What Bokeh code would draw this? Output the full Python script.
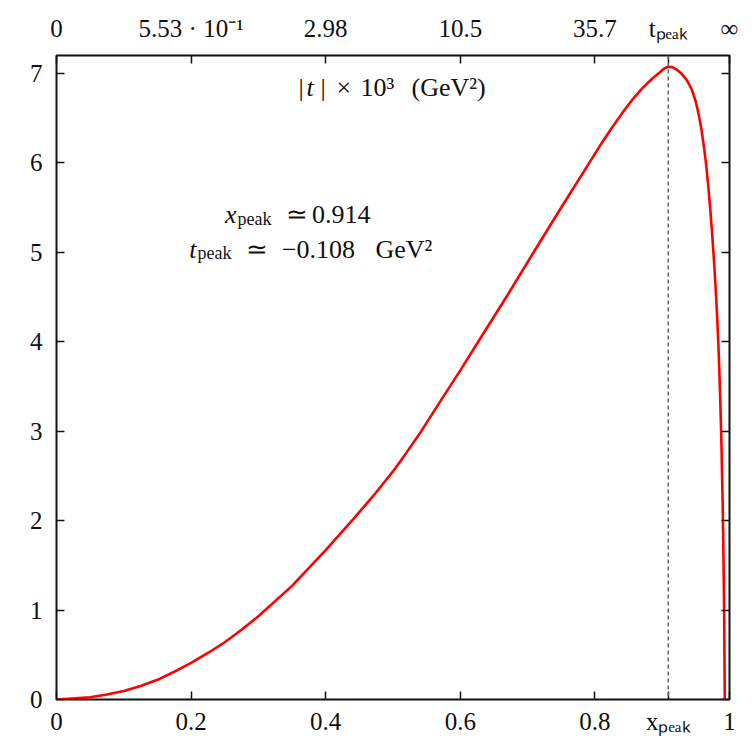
from bokeh.plotting import figure
from bokeh.models import LinearAxis, FixedTicker, Span, Label, Range1d
from bokeh.embed import file_html
from bokeh.resources import INLINE

# ---- data ----
x_vals = [0, 0.05, 0.075, 0.1, 0.125, 0.15, 0.175, 0.2, 0.225, 0.25, 0.275,
          0.3, 0.35, 0.4, 0.439, 0.47, 0.5, 0.52, 0.542, 0.57, 0.6, 0.625,
          0.67, 0.709, 0.75, 0.79, 0.81, 0.826, 0.84, 0.855, 0.87, 0.885,
          0.897, 0.903, 0.909, 0.915, 0.921, 0.929, 0.937, 0.944, 0.95, 0.954,
          0.958, 0.962, 0.965, 0.968, 0.971, 0.974, 0.977, 0.980, 0.982,
          0.984, 0.986, 0.988, 0.990, 0.991, 0.992, 0.993]
y_vals = [0, 0.025, 0.055, 0.095, 0.15, 0.22, 0.31, 0.41, 0.52, 0.64, 0.78,
          0.93, 1.27, 1.67, 2.0, 2.27, 2.55, 2.76, 3.0, 3.33, 3.68, 3.98,
          4.52, 5.0, 5.5, 5.98, 6.22, 6.40, 6.55, 6.70, 6.83, 6.94,
          7.015, 7.055, 7.075, 7.07, 7.045, 6.995, 6.92, 6.82, 6.68, 6.55,
          6.39, 6.18, 6.0, 5.78, 5.52, 5.23, 4.9, 4.52, 4.22,
          3.87, 3.42, 2.87, 2.12, 1.62, 1.0, 0.0]

x_peak = 0.909  # position of the peak / dashed line as drawn
x_ticks = [0, 0.2, 0.4, 0.6, 0.8, x_peak, 1]
x_tick_labels = ["0", "0.2", "0.4", "0.6", "0.8", "xₚₑₐₖ", "1"]
t_tick_labels = ["0", "5.53 · 10⁻¹", "2.98", "10.5", "35.7", "tₚₑₐₖ", "∞"]
y_ticks = [0, 1, 2, 3, 4, 5, 6, 7]
y_tick_labels = ["0", "1", "2", "3", "4", "5", "6", "7"]

FONT = "Liberation Serif"
FS = "25px"
AFS = "26px"
SUB = "18px"

W, H = 753, 737
L, R, T, B = 56, 24, 55, 37
XMAX, YMAX = 1.0, 7.2
DY = 8  # label baseline correction (px)


def X(px):
    return (px - L) / (W - L - R) * XMAX


def Y(py):
    return (H - B - (py - DY)) / (H - B - T) * YMAX


p = figure(width=W, height=H, x_range=Range1d(0, XMAX), y_range=Range1d(0, YMAX),
           output_backend="svg", toolbar_location=None,
           min_border_left=L, min_border_right=R, min_border_top=T, min_border_bottom=B)
p.grid.visible = False
p.outline_line_color = "#111111"
p.outline_line_width = 2
p.background_fill_color = "white"
p.border_fill_color = "white"

bottom = p.below[0]
left = p.left[0]
top = LinearAxis()
right = LinearAxis()
p.add_layout(top, "above")
p.add_layout(right, "right")


def style(ax, ticks, labels, standoff):
    ax.ticker = FixedTicker(ticks=ticks)
    ax.major_label_overrides = {t: s for t, s in zip(ticks, labels)}
    ax.axis_line_color = None
    ax.major_tick_in = 8
    ax.major_tick_out = 0
    ax.minor_tick_line_color = None
    ax.major_tick_line_color = "#111111"
    ax.major_tick_line_width = 1.5
    ax.major_label_text_font = FONT
    ax.major_label_text_font_size = FS
    ax.major_label_text_color = "#111111"
    ax.major_label_standoff = standoff


style(bottom, x_ticks, x_tick_labels, 8)
style(top, x_ticks, t_tick_labels, 14)
style(left, y_ticks, y_tick_labels, 14)
style(right, y_ticks, ["" for _ in y_ticks], 0)
right.major_label_text_font_size = "0px"

p.add_layout(Span(location=x_peak, dimension="height", line_color="#666666",
                  line_dash="4 3", line_width=1.5))

p.line(x_vals, y_vals, line_color="#ff0000", line_width=2.6)


def lab(px, py, text, size=AFS, italic=False, align="left"):
    p.add_layout(Label(x=X(px), y=Y(py), text=text, text_font=FONT,
                       text_font_size=size, text_color="#111111",
                       text_font_style="italic" if italic else "normal",
                       text_align=align, text_baseline="alphabetic"))


# top axis title inside the plot
lab(298, 95, "|")
lab(306, 95, "t", italic=True)
lab(320, 95, "|")
lab(336, 95, "×")
lab(360, 95, "10³")
lab(411, 95, "(GeV²)")

# annotation
lab(236, 222, "x", italic=True, align="right")
lab(237, 227, "peak", size=SUB)
lab(285, 222, "≃")
lab(370, 222, "0.914", align="right")
lab(196, 257, "t", italic=True, align="right")
lab(197, 261, "peak", size=SUB)
lab(245, 257, "≃")
lab(318, 257, "−0.108", align="center")
lab(375, 257, "GeV²")

open("out.html", "w").write(file_html(p, INLINE))
